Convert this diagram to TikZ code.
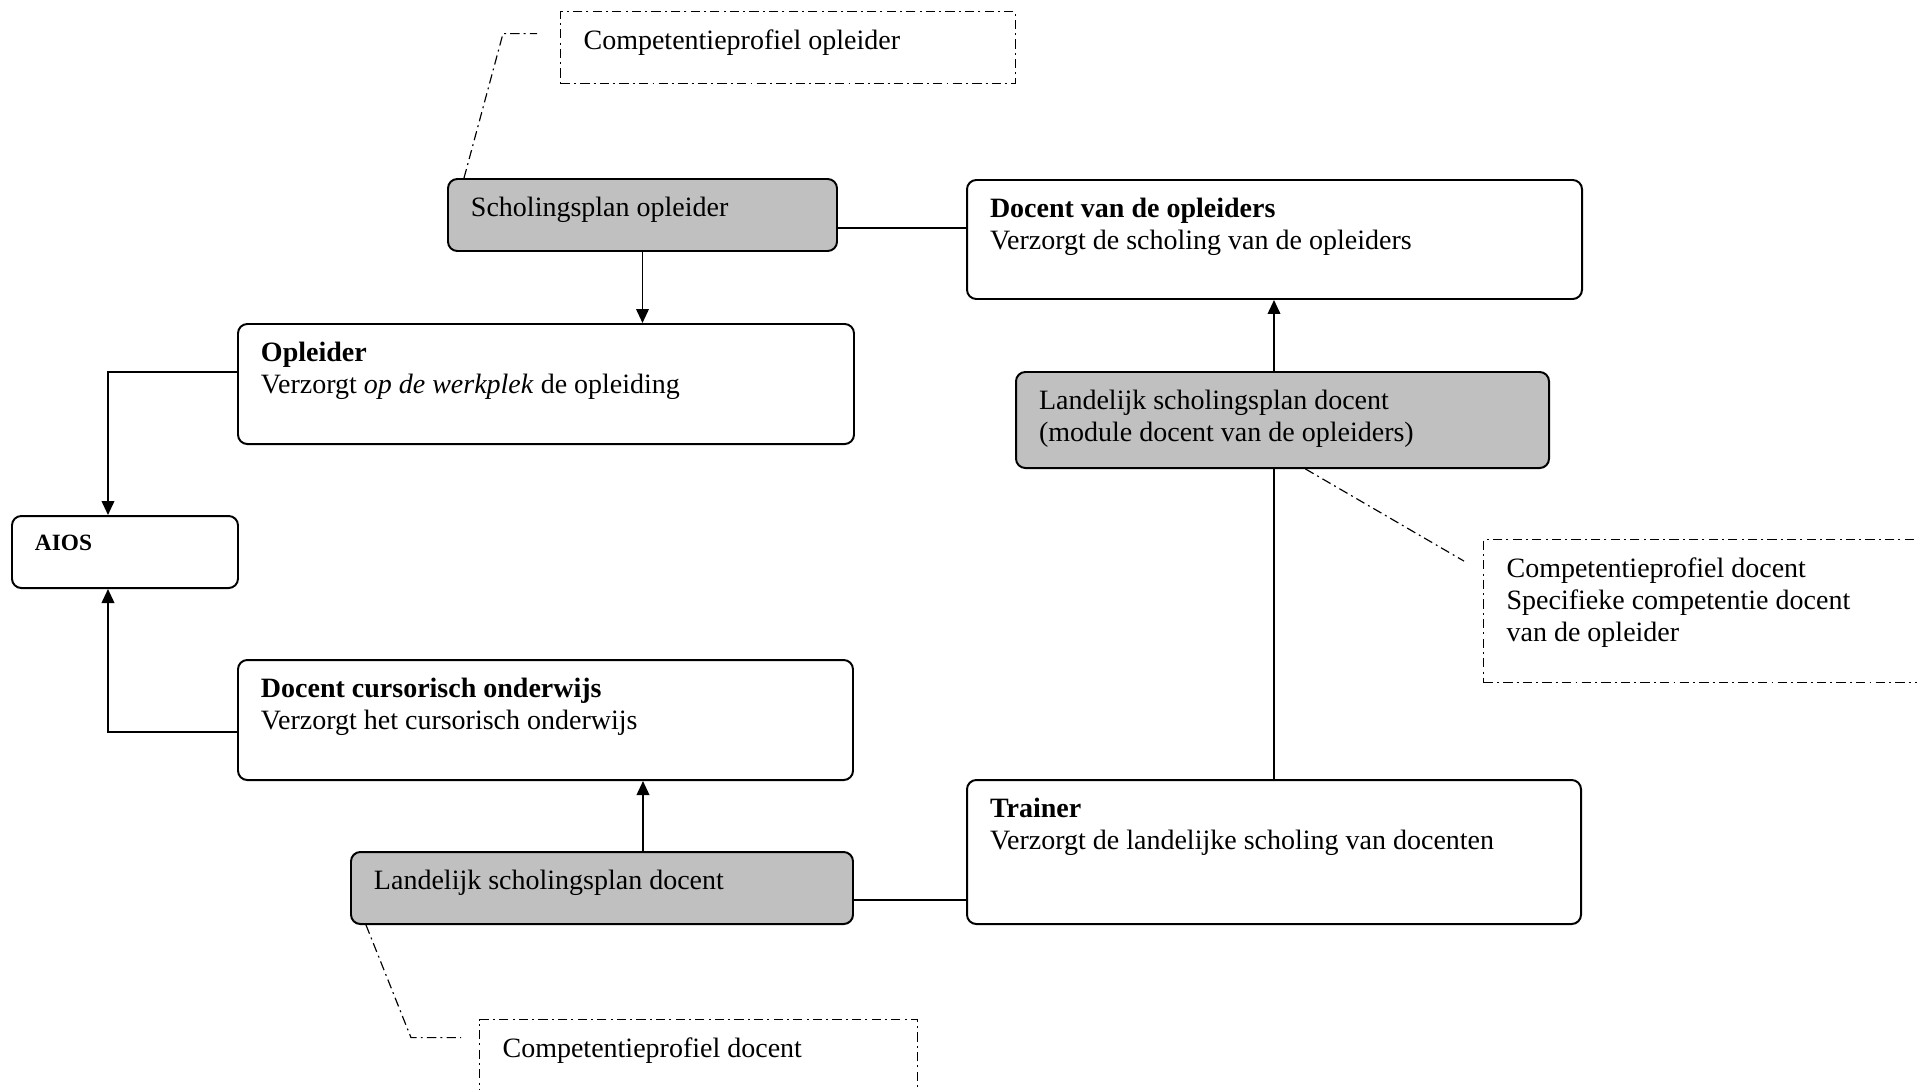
\documentclass[tikz,border=0pt]{standalone}
\usepackage{fontspec}
\setmainfont{Liberation Serif}
\usetikzlibrary{arrows.meta, positioning}
\definecolor{planfill}{RGB}{192,192,192}
\newdimen\pxunit
\pxunit=0.4286pt
\newcommand{\cardtext}[3]{\parbox[t][#2\pxunit][t]{#1\pxunit}{\strut#3}}

\begin{document}
\begin{tikzpicture}[x=0.4286pt, y=-0.4286pt, >={Triangle[length=6pt,width=5.4pt]},
        card/.style={draw, rounded corners=4pt, line width=0.85pt, anchor=north west,
            inner xsep=23\pxunit, inner ysep=15\pxunit, font=\fontsize{12}{13.8}\selectfont},
        plan/.style={card, fill=planfill},
        note/.style={card, sharp corners, line width=0.5pt, dash pattern=on 4pt off 1.8pt on 0.8pt off 1.8pt},
        link/.style={line width=0.8pt},
        hint/.style={line width=0.5pt, dash pattern=on 4pt off 1.8pt on 0.8pt off 1.8pt}]
        \useasboundingbox (0,0) rectangle (1917,1089);
        \clip (0,0) rectangle (1917,1089);

        \node[note] (cpo) at (560,11) {\cardtext{409}{42}{Competentieprofiel opleider}};
        \node[plan] (sch) at (447,178) {\cardtext{343}{42}{Scholingsplan opleider}};
        \node[card] (dvo) at (966,179) {\cardtext{569}{89}{\textbf{Docent van de opleiders}\\Verzorgt de scholing van de opleiders}};
        \node[card] (opl) at (237,323) {\cardtext{570}{90}{\textbf{Opleider}\\Verzorgt \textit{op de werkplek} de opleiding}};
        \node[card, font=\fontsize{10}{12}\selectfont] (aios) at (11,515) {\cardtext{180}{42}{\textbf{AIOS}}};
        \node[plan] (mod) at (1015,371) {\cardtext{487}{66}{Landelijk scholingsplan docent\\(module docent van de opleiders)}};
        \node[note] (rnote) at (1483,539) {\cardtext{421}{113}{Competentieprofiel docent\\Specifieke competentie docent\\van de opleider}};
        \node[card] (dco) at (237,659) {\cardtext{569}{90}{\textbf{Docent cursorisch onderwijs}\\Verzorgt het cursorisch onderwijs}};
        \node[plan] (ldo) at (350,851) {\cardtext{456}{42}{Landelijk scholingsplan docent}};
        \node[card] (trn) at (966,779) {\cardtext{568}{114}{\textbf{Trainer}\\Verzorgt de landelijke scholing van docenten}};
        \node[note] (bnote) at (479,1019) {\cardtext{392}{44}{Competentieprofiel docent}};

        \coordinate (schlink) at ([shift={(0,13)}]sch.east);
        \coordinate (ldolink) at ([shift={(0,12)}]ldo.east);
        \coordinate (ldoup) at ([shift={(41,0)}]ldo.north);

        \draw[->, link] (sch.south) -- (sch.south |- opl.north);
        \draw[link] (schlink) -- (schlink -| dvo.west);
        \draw[->, link] ([shift={(0,-12)}]opl.west) -| ([shift={(-17,0)}]aios.north);
        \draw[->, link] ([shift={(0,12)}]dco.west) -| ([shift={(-17,0)}]aios.south);
        \draw[->, link] (ldoup) -- (ldoup |- dco.south);
        \draw[link] (ldolink) -- (ldolink -| trn.west);
        \draw[link] (trn.north) -- (trn.north |- mod.south);
        \draw[->, link] (trn.north |- mod.north) -- (trn.north |- dvo.south);

        \draw[hint] ([shift={(17,0)}]sch.north west) -- ([shift={(-57,-14)}]cpo.west) -- ([shift={(-23,-14)}]cpo.west);
        \draw[hint] ([shift={(23,0)}]mod.south) -- ([shift={(-19,-50)}]rnote.west);
        \draw[hint] ([shift={(16,0)}]ldo.south west) -- ([shift={(-68,-19)}]bnote.west) -- ([shift={(-18,-19)}]bnote.west);
\end{tikzpicture}
\end{document}
